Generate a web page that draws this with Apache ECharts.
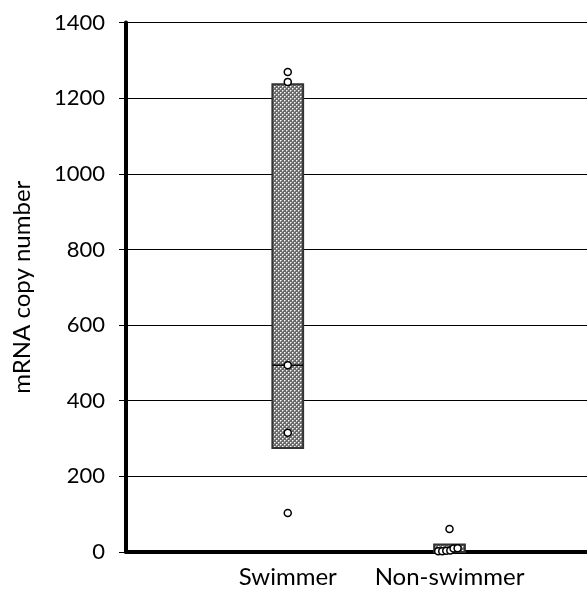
<!DOCTYPE html>
<html>
<head>
<meta charset="utf-8">
<script src="https://cdn.jsdelivr.net/npm/echarts@6/dist/echarts.min.js"></script>
<style>
html,body{margin:0;padding:0;background:#fff;}
#chart{width:587px;height:592px;}
</style>
</head>
<body>
<div id="chart"></div>
<script>
// ---- data ----
const categories = ['Swimmer', 'Non-swimmer'];
const categoryPos = [1, 2];
const boxLow = [275, 0];
const boxHigh = [1237, 20];
const medians = [494, null];
const swimmerPoints = [1269, 1243, 494, 315, 103];
const nonSwimmerPoints = [61, 2, 2, 3, 4, 9, 10];
const nonSwimmerJitter = [0, -0.07, -0.045, -0.02, 0.005, 0.025, 0.05];
const yTicks = [0, 200, 400, 600, 800, 1000, 1200, 1400];

// ---- pattern fill ----
function makePattern() {
  const c = document.createElement('canvas');
  c.width = 4; c.height = 4;
  const g = c.getContext('2d');
  g.fillStyle = '#6a6a6a';
  g.fillRect(0, 0, 4, 4);
  g.fillStyle = '#ffffff';
  g.fillRect(0, 0, 1, 1);
  g.fillRect(2, 2, 1, 1);
  g.fillStyle = '#b0b0b0';
  g.fillRect(1, 0, 1, 1);
  g.fillRect(0, 1, 1, 1);
  g.fillRect(3, 2, 1, 1);
  g.fillRect(2, 3, 1, 1);
  return c;
}
const pattern = { image: makePattern(), repeat: 'repeat' };

const boxData = categoryPos.map((p, i) => [p, boxLow[i], boxHigh[i], medians[i]]);
const scatterData = swimmerPoints.map(v => [categoryPos[0], v])
  .concat(nonSwimmerPoints.map((v, i) => [categoryPos[1] + nonSwimmerJitter[i], v]));

const FONT = 'Lato';
const chart = echarts.init(document.getElementById('chart'), null, { renderer: 'canvas' });
chart.setOption({
  animation: false,
  backgroundColor: '#fff',
  grid: { left: 126, top: 22.5, bottom: 40, right: 0, containLabel: false },
  xAxis: {
    type: 'value', min: 0, max: 2.85,
    axisLine: { show: true, onZero: false, lineStyle: { color: '#000', width: 4 } },
    axisTick: { show: false },
    splitLine: { show: false },
    axisLabel: {
      customValues: categoryPos,
      formatter: v => categories[categoryPos.indexOf(v)] || '',
      color: '#000', fontFamily: FONT, fontSize: 24, margin: 13
    }
  },
  yAxis: {
    type: 'value', min: 0, max: 1400, interval: 200,
    name: 'mRNA copy number', nameLocation: 'middle', nameGap: 92, nameRotate: 90,
    nameTextStyle: { color: '#000', fontFamily: FONT, fontSize: 24 },
    axisLine: { show: true, lineStyle: { color: '#000', width: 4 } },
    axisTick: { show: true, length: 7, lineStyle: { color: '#000', width: 1 } },
    splitLine: { show: true, lineStyle: { color: '#000', width: 1 } },
    axisLabel: {
      color: '#000', fontFamily: FONT, fontSize: 22, margin: 21,
      formatter: v => (yTicks.indexOf(v) >= 0 ? String(v) : '')
    }
  },
  series: [
    {
      type: 'custom',
      clip: false,
      data: boxData,
      z: 2,
      renderItem: function (params, api) {
        const x = api.value(0), lo = api.value(1), hi = api.value(2), med = api.value(3);
        const hw = 0.095;
        const p1 = api.coord([x - hw, hi]);
        const p2 = api.coord([x + hw, lo]);
        const children = [{
          type: 'rect',
          shape: { x: p1[0], y: p1[1], width: p2[0] - p1[0], height: p2[1] - p1[1] },
          style: { fill: pattern, stroke: '#333', lineWidth: 2 }
        }];
        if (!isNaN(med) && med !== null) {
          const m1 = api.coord([x - hw, med]);
          const m2 = api.coord([x + hw, med]);
          children.push({
            type: 'line',
            shape: { x1: m1[0], y1: m1[1], x2: m2[0], y2: m2[1] },
            style: { stroke: '#000', lineWidth: 1.5 }
          });
        }
        return { type: 'group', children: children };
      }
    },
    {
      type: 'scatter',
      data: scatterData,
      z: 3,
      symbol: 'circle',
      symbolSize: 7,
      itemStyle: { color: '#fff', borderColor: '#000', borderWidth: 1.5, opacity: 1 }
    }
  ]
});
</script>
</body>
</html>
